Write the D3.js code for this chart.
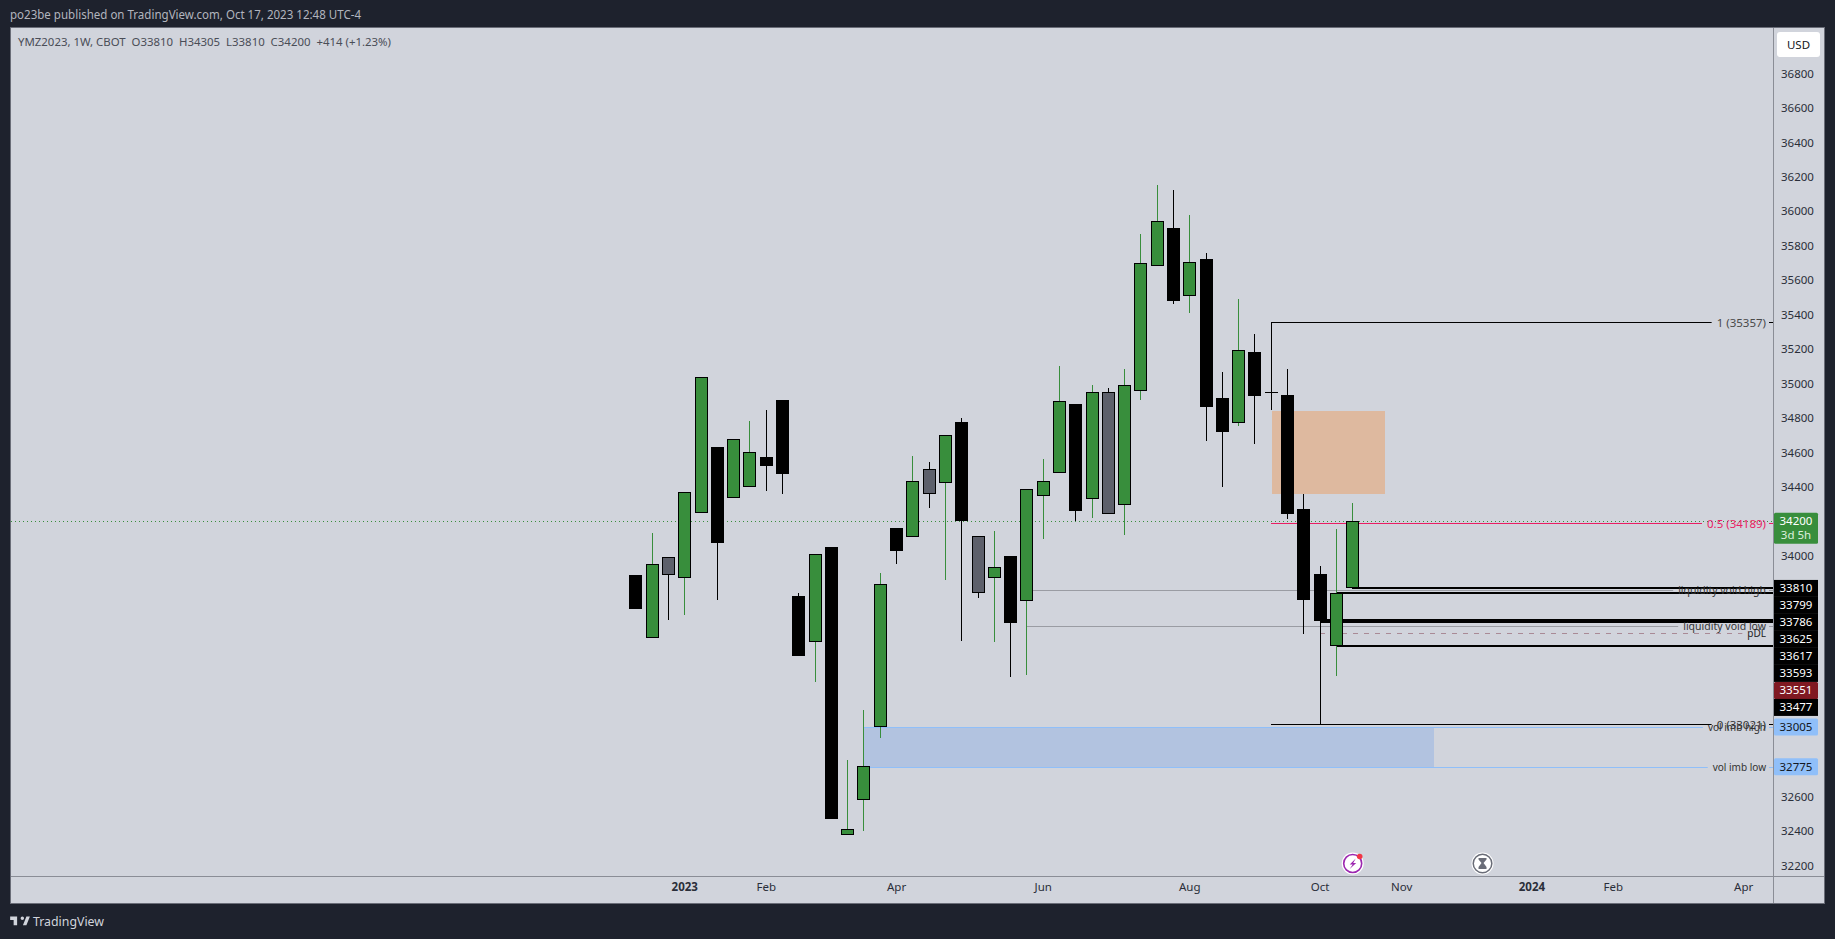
<!DOCTYPE html>
<html><head><meta charset="utf-8">
<script src="https://cdn.jsdelivr.net/npm/d3@7/dist/d3.min.js"></script>
<style>html,body{margin:0;padding:0;background:#1e222d;overflow:hidden}svg{display:block}
text{font-family:"Noto Sans",sans-serif}</style></head><body><svg id="c" width="1835" height="939"></svg>
<script>
const weeks=["2022-12-12","2022-12-19","2022-12-26","2023-01-02","2023-01-09","2023-01-16","2023-01-23","2023-01-30","2023-02-06","2023-02-13","2023-02-20","2023-02-27","2023-03-06","2023-03-13","2023-03-20","2023-03-27","2023-04-03","2023-04-10","2023-04-17","2023-04-24","2023-05-01","2023-05-08","2023-05-15","2023-05-22","2023-05-29","2023-06-05","2023-06-12","2023-06-19","2023-06-26","2023-07-03","2023-07-10","2023-07-17","2023-07-24","2023-07-31","2023-08-07","2023-08-14","2023-08-21","2023-08-28","2023-09-04","2023-09-11","2023-09-18","2023-09-25","2023-10-02","2023-10-09","2023-10-16"];
const open =[33886,33520,33990,33872,34250,34629,34337,34397,34571,34902,33764,33501,34048,32376,32579,33003,34159,34106,34501,34420,34774,34112,33872,33996,33739,34345,34478,34881,34327,34948,34292,34954,35680,35901,35506,35721,34914,34768,35181,34948,34931,34269,33892,33477,33810];
const close=[33692,33950,33886,34368,35036,34075,34676,34600,34523,34476,33419,34008,32473,32411,32777,33834,34029,34432,34356,34699,34201,33781,33932,33611,34385,34432,34896,34261,34948,34240,34989,35698,35941,35481,35703,34865,34720,35192,34929,34943,34244,33744,33623,33786,34200];
const high =[33886,34132,33990,34368,35036,34629,34676,34782,34846,34902,33783,34008,34048,32813,33104,33897,34159,34579,34544,34699,34797,34112,34143,33996,34385,34561,35101,34881,34991,34974,35084,35868,36152,36123,35978,35758,35067,35490,35287,35357,35084,34358,33938,34153,34305];
const low  =[33692,33520,33626,33655,34250,33745,34337,34397,34377,34360,33419,33268,32473,32376,32403,32943,33954,34106,34279,33861,33506,33756,33501,33297,33309,34099,34478,34201,34221,34240,34122,34906,35680,35461,35409,34668,34401,34755,34650,34848,34215,33547,33021,33303,33810];
const kinds=["down","up","gray","up","up","down","up","up","down","down","down","up","down","up","up","up","down","up","gray","up","down","gray","up","down","up","up","up","down","up","gray","up","up","up","down","up","down","down","up","down","down","down","down","down","up","up"];
const kindFill={up:"#388e3c",down:"#000000",gray:"#5d606b"};
const priceTicks=[36800,36600,36400,36200,36000,35800,35600,35400,35200,35000,34800,34600,34400,34000,32600,32400,32200];
const timeTicks=["2023-01-02","2023-02-06","2023-04-03","2023-06-05","2023-08-07","2023-10-02","2023-11-06","2024-01-01","2024-02-05","2024-04-01"];
const timeLabels=["2023","Feb","Apr","Jun","Aug","Oct","Nov","2024","Feb","Apr"];
const hLineNames=["fib1","fib05","fib0","lvh","lvl","pdl","vih","vil","t1","t2","t3","t4","t5"];
const hLinePrices=[35357,34189,33021,33799,33593,33551,33005,32775,33810,33786,33625,33617,33477];
const hLineStarts=["2023-09-11","2023-09-11","2023-09-11","2023-05-29","2023-05-29","2023-10-02","2023-03-20","2023-03-20","2023-10-16","2023-10-09","2023-10-02","2023-10-02","2023-10-09"];
const hLineColors=["#000","#e91e63","#000","#9a9ca3","#9a9ca3","#a98a96","#90bff9","#90bff9","#000","#000","#000","#000","#000"];
const hLineWidths=[1,1,1,1,1,1,1,1,2,2,2,2,2];
const hLineLabels=["1 (35357)","0.5 (34189)","0 (33021)","liquidity void high","liquidity void low","pDL","vol imb high","vol imb low","","","","",""];
const hLineTextColors=["#4a4a4a","#e91e63","#333","#333","#333","#222","#333","#333","","","","",""];
const hLineFontSizes=[11.5,11.5,11.5,10.5,10.5,10,10,10,0,0,0,0,0];
const tagPrices=[33810,33799,33786,33625,33617,33593,33551,33477,33005,32775];
const tagFills=["#000","#000","#000","#000","#000","#000","#801922","#000","#90bff9","#90bff9"];
const tagText=["#fff","#fff","#fff","#fff","#fff","#fff","#fff","#fff","#131722","#131722"];
const zoneOrange=[34840,34358,"2023-09-11","2023-10-30"];
const zoneBlue=[33005,32775,"2023-03-20","2023-11-20"];
const lastPrice=34200;

const W=1835,H=939,L=10,T=27,R=1824,B=903,AX=1773,TY=876;
const d=s=>new Date(s+"T00:00:00Z");
const x=d3.scaleUtc().domain([d(weeks[0]),d(weeks[weeks.length-1])]).range([635.4,1352.2]);
const y=d3.scaleLinear().domain([36800,32200]).range([73.5,865.7]);
const px=v=>Math.round(v);
const svg=d3.select("#c");
const axisCol="#8a8d96";
svg.append("rect").attr("width",W).attr("height",H).attr("fill","#1e222d");
svg.append("rect").attr("x",L+.5).attr("y",T+.5).attr("width",R-L).attr("height",B-T).attr("fill","#d1d4dc").attr("stroke","#6a6d78");
svg.append("text").attr("x",10).attr("y",19).attr("fill","#b2b5be").attr("font-size",12).attr("textLength",351).attr("lengthAdjust","spacingAndGlyphs").text("po23be published on TradingView.com, Oct 17, 2023 12:48 UTC-4");

// zones
[[zoneOrange,"#deb99f"],[zoneBlue,"#b2c3e0"]].forEach(([z,c])=>{
  svg.append("rect").attr("x",px(x(d(z[2])))+1).attr("y",px(y(z[0]))).attr("width",px(x(d(z[3])))-px(x(d(z[2])))-1).attr("height",px(y(z[1]))-px(y(z[0]))).attr("fill",c);
});
// last price dotted
svg.append("line").attr("x1",L+1).attr("x2",AX).attr("y1",px(y(lastPrice))+.5).attr("y2",px(y(lastPrice))+.5).attr("stroke","#388e3c").attr("stroke-dasharray","1 3");

// horizontal level lines and labels
const labelRight=1766;
const lines=svg.append("g"), labels=svg.append("g");
hLinePrices.forEach((p,i)=>{
  const yy=px(y(p))+(hLineWidths[i]===2?0:.5), xs=px(x(d(hLineStarts[i])));
  const dash=hLineNames[i]==="pdl"?"5 6":null;
  let gap=AX;
  if(hLineLabels[i]){
    const t=labels.append("text").attr("x",labelRight).attr("y",hLineNames[i]==="pdl"?yy-.5:yy).attr("dy","0.35em").attr("text-anchor","end")
      .attr("font-size",hLineFontSizes[i]).attr("fill",hLineTextColors[i]).text(hLineLabels[i]);
    gap=labelRight-t.node().getComputedTextLength()-5;
    if(hLineNames[i]!=="pdl")
      lines.append("line").attr("x1",1769).attr("x2",AX).attr("y1",yy).attr("y2",yy).attr("stroke",hLineColors[i]);
  }
  lines.append("line").attr("x1",xs).attr("x2",gap).attr("y1",yy).attr("y2",yy).attr("stroke",hLineColors[i]).attr("stroke-width",hLineWidths[i]).attr("stroke-dasharray",dash);
});

// candles
const cw=13;
const g=svg.append("g");
const candle=g.selectAll("g").data(weeks).join("g");
candle.append("line").attr("x1",(w)=>px(x(d(w)))+.5).attr("x2",(w)=>px(x(d(w)))+.5)
  .attr("y1",(w,i)=>px(y(high[i]))).attr("y2",(w,i)=>px(y(low[i])))
  .attr("stroke",(w,i)=>kinds[i]==="up"?"#388e3c":"#000");
candle.append("rect").each(function(w,i){
  const top=px(y(Math.max(open[i],close[i]))),bot=Math.max(px(y(Math.min(open[i],close[i]))),top+1),xl=px(x(d(w)))-6;
  const s=d3.select(this);
  if(kinds[i]==="down") s.attr("x",xl).attr("y",top).attr("width",cw).attr("height",bot-top).attr("fill","#000");
  else s.attr("x",xl+.5).attr("y",top+.5).attr("width",cw-1).attr("height",bot-top-1).attr("fill",kindFill[kinds[i]]).attr("stroke","#000");
});

// axes panes
svg.append("rect").attr("x",AX).attr("y",T).attr("width",R-AX).attr("height",B-T).attr("fill","#d1d4dc");
svg.append("line").attr("x1",L).attr("x2",R).attr("y1",TY+.5).attr("y2",TY+.5).attr("stroke",axisCol);
svg.append("line").attr("x1",AX+.5).attr("x2",AX+.5).attr("y1",T).attr("y2",B).attr("stroke",axisCol);
svg.append("rect").attr("x",L+.5).attr("y",T+.5).attr("width",R-L).attr("height",B-T).attr("fill","none").attr("stroke","#6a6d78");

const ya=svg.append("g").attr("transform",`translate(${AX},0)`).call(d3.axisRight(y).tickValues(priceTicks).tickSize(0).tickPadding(8).tickFormat(d3.format("d")));
ya.select(".domain").remove();
ya.selectAll("text").attr("font-size",11.5).attr("fill","#2a2e39").attr("font-family",'"Noto Sans",sans-serif');
const timeDates=timeTicks.map(d);
const xa=svg.append("g").attr("transform",`translate(0,${TY})`).call(d3.axisBottom(x).tickValues(timeDates).tickSize(0).tickPadding(7).tickFormat((v,i)=>timeLabels[i]));
xa.select(".domain").remove();
xa.selectAll("text").attr("font-size",11.5).attr("fill","#2a2e39").attr("font-family",'"Noto Sans",sans-serif')
  .attr("font-weight",(v,i)=>/^20/.test(timeLabels[i])?700:400);

// price tags
let prev=-1e9;
tagPrices.forEach((p,i)=>{
  const c=Math.max(y(p),prev+17); prev=c;
  svg.append("rect").attr("x",AX+1).attr("y",c-8.5).attr("width",44).attr("height",17).attr("rx",tagFills[i]==="#000"?0:1.5).attr("fill",tagFills[i]);
  svg.append("text").attr("x",AX+23).attr("y",c).attr("dy","0.35em").attr("text-anchor","middle").attr("font-size",11.5).attr("fill",tagText[i]).text(p);
});
svg.append("rect").attr("x",AX+1).attr("y",y(lastPrice)-8.5).attr("width",44).attr("height",31).attr("rx",1.5).attr("fill","#388e3c");
svg.append("text").attr("x",AX+23).attr("y",y(lastPrice)).attr("dy","0.35em").attr("text-anchor","middle").attr("font-size",11.5).attr("fill","#fff").text(lastPrice);
svg.append("text").attr("x",AX+23).attr("y",y(lastPrice)+14).attr("dy","0.35em").attr("text-anchor","middle").attr("font-size",11.5).attr("fill","#dcefdc").text("3d 5h");

// USD button
svg.append("rect").attr("x",1777).attr("y",32).attr("width",43).attr("height",25).attr("rx",3).attr("fill","#fff");
svg.append("text").attr("x",1798.5).attr("y",44.5).attr("dy","0.35em").attr("text-anchor","middle").attr("font-size",11.5).attr("fill","#131722").text("USD");

// legend
svg.append("text").attr("x",18).attr("y",46).attr("fill","#4a4d57").attr("font-size",11.5).attr("textLength",373).attr("lengthAdjust","spacingAndGlyphs").style("white-space","pre")
  .text("YMZ2023, 1W, CBOT  O33810  H34305  L33810  C34200  +414 (+1.23%)");

// event icons
const ic1=svg.append("g").attr("transform",`translate(${x(d("2023-10-16"))+.5},863.5)`);
ic1.append("circle").attr("r",11).attr("fill","#fff");
ic1.append("circle").attr("r",9).attr("fill","#fff").attr("stroke","#9c27b0").attr("stroke-width",1.6);
ic1.append("path").attr("d","M3 -5 L-3 1 L0 1 L-3 5.5 L3.5 -0.5 L0.5 -0.5 L3 -5Z").attr("fill","#9c27b0");
ic1.append("circle").attr("cx",7).attr("cy",-7).attr("r",2.8).attr("fill","#f23645");
const ic2=svg.append("g").attr("transform",`translate(${x(d("2023-12-11"))},863.5)`);
ic2.append("circle").attr("r",11).attr("fill","#fff");
ic2.append("circle").attr("r",9.3).attr("fill","#fff").attr("stroke","#6a6d78").attr("stroke-width",1.5);
ic2.append("path").attr("d","M-4 -5.5H4V-4L1 -0.5 4 3.5V5.5H-4V3.5L-1 -0.5 -4 -4Z").attr("fill","#6a6d78");

// footer
svg.append("path").attr("transform","translate(9,913) scale(0.58)").attr("d","M14 6H2v6h6v9h6V6zm16 15h-6l6-15h6l-6 15zm-7-9a3 3 0 1 0 0-6 3 3 0 0 0 0 6z").attr("fill","#d1d4dc");
svg.append("text").attr("x",33).attr("y",926).attr("fill","#d1d4dc").attr("font-size",13).attr("textLength",71).attr("lengthAdjust","spacingAndGlyphs").text("TradingView");
</script></body></html>
